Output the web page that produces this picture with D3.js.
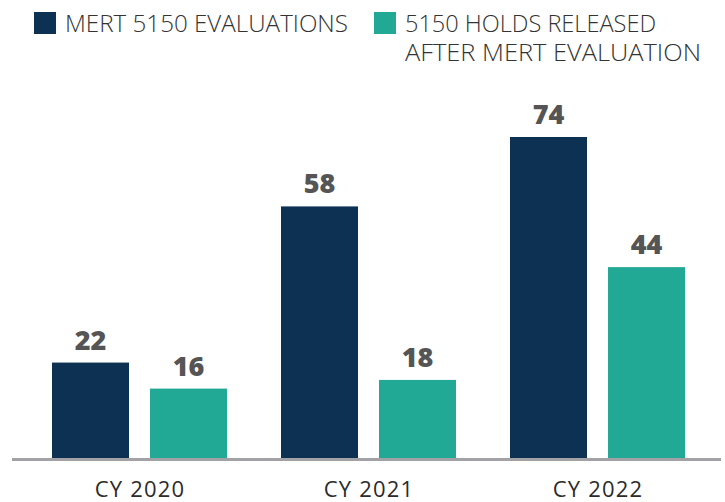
<!DOCTYPE html>
<html>
<head>
<meta charset="utf-8">
<script src="https://cdn.jsdelivr.net/npm/d3@7"></script>
<style>
  html, body { margin: 0; padding: 0; background: #fff; }
  svg { display: block; }
  .legend-text { font-family: "Open Sans", sans-serif; font-weight: 300; font-size: 24px; fill: #333; }
  .value-label { font-family: "Open Sans", sans-serif; font-weight: 800; font-size: 27px; fill: #555; }
  .cat-label { font-family: "Open Sans", sans-serif; font-weight: 400; font-size: 22px; fill: #2b2b2b; letter-spacing: 1.2px; }
</style>
</head>
<body>
<svg id="chart" width="725" height="502"></svg>
<script>
  const categories = ["CY 2020", "CY 2021", "CY 2022"];
  const seriesNames = ["MERT 5150 EVALUATIONS", "5150 HOLDS RELEASED AFTER MERT EVALUATION"];
  const evaluations = [22, 58, 74];
  const released = [16, 18, 44];
  const colors = ["#0d3153", "#22a996"];

  const svg = d3.select("#chart");
  const baseY = 458;

  const x0 = d3.scaleBand().domain(categories).range([52, 685]).paddingInner(54 / 229).paddingOuter(0);
  const x1 = d3.scaleBand().domain([0, 1]).range([0, x0.bandwidth()]).paddingInner(21 / 98).paddingOuter(0);
  const y = d3.scaleLinear().domain([0, 74]).range([baseY, 137]);

  const rows = categories.map((c, i) => ({ cat: c, values: [evaluations[i], released[i]] }));

  const groups = svg.selectAll(".group")
    .data(rows)
    .join("g")
    .attr("class", "group")
    .attr("transform", (d) => `translate(${x0(d.cat)},0)`);

  groups.selectAll("rect")
    .data((d) => d.values.map((v, s) => ({ v, s })))
    .join("rect")
    .attr("x", (d) => x1(d.s))
    .attr("y", (d) => y(d.v))
    .attr("width", x1.bandwidth())
    .attr("height", (d) => baseY - y(d.v))
    .attr("fill", (d) => colors[d.s]);

  groups.selectAll(".value-label")
    .data((d) => d.values.map((v, s) => ({ v, s })))
    .join("text")
    .attr("class", "value-label")
    .attr("text-anchor", "middle")
    .attr("x", (d) => x1(d.s) + x1.bandwidth() / 2)
    .attr("y", (d) => y(d.v) - 13)
    .text((d) => d.v);

  // baseline
  svg.append("line")
    .attr("x1", 12).attr("x2", 721)
    .attr("y1", baseY + 1.5).attr("y2", baseY + 1.5)
    .attr("stroke", "#a2a2a6").attr("stroke-width", 3);

  // category labels
  svg.append("g")
    .selectAll("text")
    .data(categories)
    .join("text")
    .attr("class", "cat-label")
    .attr("text-anchor", "middle")
    .attr("x", (d) => x0(d) + x0.bandwidth() / 2 + 0.6)
    .attr("y", 497)
    .text((d) => d);

  // legend
  const legend = [
    { x: 34, lines: [seriesNames[0]], widths: [283] },
    { x: 374, lines: ["5150 HOLDS RELEASED", "AFTER MERT EVALUATION"], widths: [251, 296] }
  ];
  legend.forEach((item, i) => {
    svg.append("rect")
      .attr("x", item.x).attr("y", 12)
      .attr("width", 22).attr("height", 22)
      .attr("fill", colors[i]);
    const t = svg.append("text")
      .attr("class", "legend-text")
      .attr("y", 32);
    item.lines.forEach((line, j) => {
      t.append("tspan")
        .attr("x", item.x + 31)
        .attr("dy", j === 0 ? 0 : 29)
        .attr("textLength", item.widths[j])
        .attr("lengthAdjust", "spacingAndGlyphs")
        .text(line);
    });
  });
</script>
</body>
</html>
